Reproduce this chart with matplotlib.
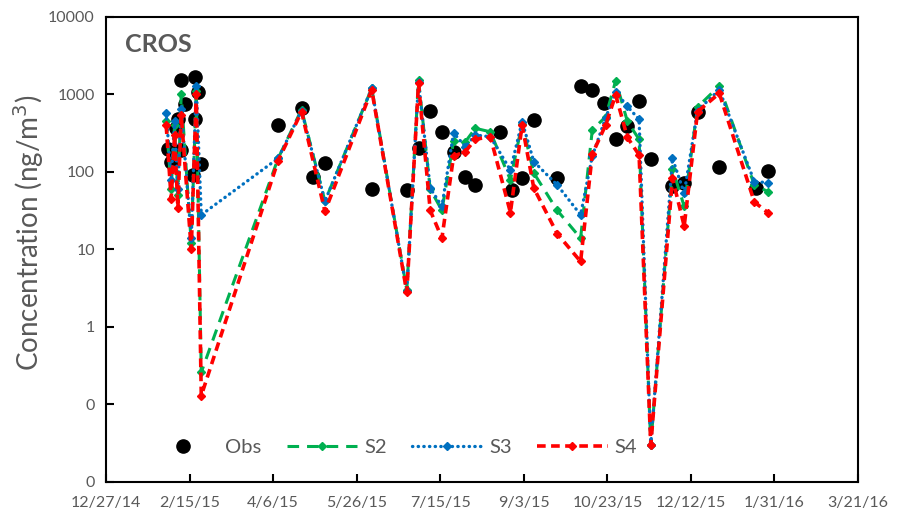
import datetime as dt
import matplotlib
matplotlib.use("Agg")
import matplotlib.pyplot as plt
import matplotlib.dates as mdates
from matplotlib.ticker import FixedLocator, FuncFormatter

plt.rcParams['font.family'] = ['Lato', 'DejaVu Sans']

# Observed concentrations (ng/m3)
obs_dates = ['2015-02-02', '2015-02-04', '2015-02-07', '2015-02-08', '2015-02-10',
             '2015-02-10', '2015-02-12', '2015-02-17', '2015-02-18', '2015-02-18',
             '2015-02-20', '2015-02-22', '2015-04-09', '2015-04-23', '2015-04-30',
             '2015-05-07', '2015-06-04', '2015-06-25', '2015-07-02', '2015-07-09',
             '2015-07-16', '2015-07-23', '2015-07-30', '2015-08-05', '2015-08-20',
             '2015-08-27', '2015-09-02', '2015-09-09', '2015-09-23', '2015-10-07',
             '2015-10-14', '2015-10-21', '2015-10-28', '2015-11-04', '2015-11-11',
             '2015-11-18', '2015-12-01', '2015-12-08', '2015-12-16', '2015-12-29',
             '2016-01-20', '2016-01-27']
obs_vals = [197, 134, 370, 483, 192,
            1538, 754, 91, 483, 1683,
            1077, 127, 404, 670, 86,
            130, 60, 59, 202, 618,
            330, 183, 86, 68, 330,
            59, 83, 470, 83, 1288,
            1143, 784, 267, 393, 832,
            146, 65, 73, 600, 115,
            62, 103]

# Model runs, all on the same sampling dates
model_dates = ['2015-02-01', '2015-02-04', '2015-02-06', '2015-02-08', '2015-02-10',
               '2015-02-16', '2015-02-19', '2015-02-22', '2015-04-09', '2015-04-23',
               '2015-05-07', '2015-06-04', '2015-06-25', '2015-07-02', '2015-07-09',
               '2015-07-16', '2015-07-23', '2015-07-30', '2015-08-05', '2015-08-14',
               '2015-08-26', '2015-09-02', '2015-09-09', '2015-09-23', '2015-10-07',
               '2015-10-14', '2015-10-22', '2015-10-28', '2015-11-04', '2015-11-11',
               '2015-11-18', '2015-12-01', '2015-12-08', '2015-12-16', '2015-12-29',
               '2016-01-19', '2016-01-27']
s2 = [450, 60, 400, 50, 1000,
      12, 1100, 0.26, 150, 640,
      42, 1200, 3.0, 1530, 60,
      32, 250, 245, 366, 330,
      79, 420, 97, 32, 14,
      348, 517, 1507, 450, 264,
      0.03, 110, 36, 690, 1290,
      68, 56]
s3 = [580, 80, 450, 60, 650,
      14, 1300, 28, 150, 620,
      42, 1200, 2.9, 1450, 62,
      36, 320, 212, 300, 285,
      106, 447, 136, 68, 28,
      160, 500, 1088, 700, 478,
      0.03, 150, 53, 620, 1150,
      75, 73]
s4 = [400, 45, 300, 34, 550,
      10, 1000, 0.13, 140, 600,
      31, 1150, 2.8, 1390, 32,
      14, 160, 183, 264, 285,
      30, 404, 62, 16, 7,
      170, 404, 986, 280, 166,
      0.03, 83, 20, 600, 1035,
      41, 30]

obs_x = [dt.datetime.strptime(d, '%Y-%m-%d') for d in obs_dates]
mod_x = [dt.datetime.strptime(d, '%Y-%m-%d') for d in model_dates]

gray = '#595959'

fig = plt.figure(figsize=(8.97, 5.31), dpi=100)
ax = fig.add_axes([0.1182, 0.0923, 0.8383, 0.8757])

ax.plot(obs_x, obs_vals, 'o', color='black', markersize=9.5, label='Obs', zorder=2)
ax.plot(mod_x, s2, color='#00B050', lw=2.2, dashes=(3.8, 2.6), marker='D',
        markersize=4.5, label='S2', zorder=3)
ax.plot(mod_x, s3, color='#0070C0', lw=2.4, linestyle=(0, (0.1, 1.6)),
        dash_capstyle='round', marker='D', markersize=4.5, label='S3', zorder=4)
ax.plot(mod_x, s4, color='#FF0000', lw=2.6, dashes=(2.4, 1.5), marker='D',
        markersize=4.5, label='S4', zorder=5)

ax.set_yscale('log')
ax.set_ylim(0.01, 10000)
ax.yaxis.set_major_locator(FixedLocator([0.01, 0.1, 1, 10, 100, 1000, 10000]))
ax.yaxis.set_minor_locator(FixedLocator([]))
ax.yaxis.set_major_formatter(FuncFormatter(lambda v, p: f"{v:.0f}"))

start = dt.datetime(2014, 12, 27)
xticks = [start + dt.timedelta(days=50 * i) for i in range(10)]
ax.set_xlim(xticks[0], xticks[-1])
ax.xaxis.set_major_locator(FixedLocator(mdates.date2num(xticks)))


def date_label(v, p):
    d = mdates.num2date(v)
    return f"{d.month}/{d.day}/{d.strftime('%y')}"


ax.xaxis.set_major_formatter(FuncFormatter(date_label))

ax.tick_params(axis='both', direction='in', length=6, width=1.5,
               labelsize=11.5, labelcolor=gray, color='black')
ax.tick_params(axis='x', pad=10)
ax.tick_params(axis='y', pad=8)
for s in ax.spines.values():
    s.set_linewidth(1.5)
    s.set_color('black')

ax.set_ylabel('Concentration (ng/m$^3$)', fontsize=20, color=gray)
ax.yaxis.set_label_coords(-0.080, 0.535)
ax.text(0.025, 0.94, 'CROS', transform=ax.transAxes, fontsize=18,
        fontweight='bold', color=gray, va='center')

ax.legend(loc='center', bbox_to_anchor=(0.381, 0.075), ncol=4, frameon=False,
          fontsize=14.5, labelcolor=gray, handlelength=3.5, columnspacing=1.25,
          handletextpad=0.35)

fig.savefig('out.png', dpi=100)
